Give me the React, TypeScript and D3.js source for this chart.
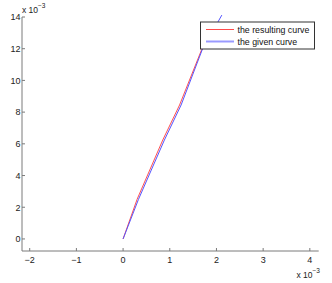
import React from "react";
import * as d3 from "d3";

const xTicks = [-2, -1, 0, 1, 2, 3, 4];
const yTicks = [0, 2, 4, 6, 8, 10, 12, 14];
const givenX = [0, 0.33, 0.885, 1.243, 1.693, 2.115];
const givenY = [0, 2.5, 6.24, 8.45, 11.92, 14.12];
const resultX = [0, 0.3, 0.85, 1.21, 1.68, 1.86];
const resultY = [0, 2.5, 6.24, 8.45, 11.92, 12.9];
const legendLabels = ["the resulting curve", "the given curve"];

const W = 332, H = 283;
const left = 22, right = 318.7, top = 17, bottom = 251;

export default function App() {
  const x = d3.scaleLinear().domain([-2.165, 4.19]).range([left, right]);
  const y = d3.scaleLinear().domain([-0.76, 14]).range([bottom, top]);
  const line = d3.line<[number, number]>().x(d => x(d[0])).y(d => y(d[1]));
  const given = givenX.map((v, i) => [v, givenY[i]] as [number, number]);
  const result = resultX.map((v, i) => [v, resultY[i]] as [number, number]);
  const axisColor = "#7a7a7a";
  const font = "Liberation Sans, Arial, sans-serif";
  return (
    <svg width={W} height={H} style={{ position: "absolute", left: 0, top: 0, background: "#fff" }} fontFamily={font}>
      <rect width={W} height={H} fill="#fff" />
      <path d={line(result) || ""} fill="none" stroke="#ff5050" strokeWidth={1} />
      <path d={line(given) || ""} fill="none" stroke="#5555ff" strokeWidth={1} />
      {/* axes */}
      <line x1={left} x2={right} y1={bottom} y2={bottom} stroke={axisColor} strokeWidth={1} />
      <line x1={left} x2={left} y1={top} y2={bottom} stroke={axisColor} strokeWidth={1} />
      {xTicks.map(t => (
        <g key={"x" + t}>
          <line x1={x(t)} x2={x(t)} y1={bottom} y2={bottom - 3} stroke={axisColor} />
          <text x={x(t)} y={263} fontSize={9} textAnchor="middle" fill="#222">
            {t < 0 ? "\u2212" + Math.abs(t) : t}
          </text>
        </g>
      ))}
      {yTicks.map(t => (
        <g key={"y" + t}>
          <line x1={left} x2={left + 3} y1={y(t)} y2={y(t)} stroke={axisColor} />
          <text x={20.5} y={y(t) + 3.3} fontSize={9} textAnchor="end" fill="#222">{t}</text>
        </g>
      ))}
      <text x={22} y={12.5} fontSize={8.5} fill="#222">x 10<tspan dy={-5} fontSize={6.5}>−3</tspan></text>
      <text x={296.5} y={278} fontSize={8.5} fill="#222">x 10<tspan dy={-5} fontSize={6.5}>−3</tspan></text>
      {/* legend */}
      <rect x={200.5} y={22} width={114} height={27} fill="#fff" stroke="#333" strokeWidth={1} />
      <line x1={206} x2={234} y1={29.5} y2={29.5} stroke="#ff4a4a" strokeWidth={1} />
      <line x1={206} x2={234} y1={41.5} y2={41.5} stroke="#9a9aff" strokeWidth={2} />
      <text x={237.5} y={33} fontSize={8.8} fill="#111">{legendLabels[0]}</text>
      <text x={237.5} y={45} fontSize={8.8} fill="#111">{legendLabels[1]}</text>
    </svg>
  );
}
